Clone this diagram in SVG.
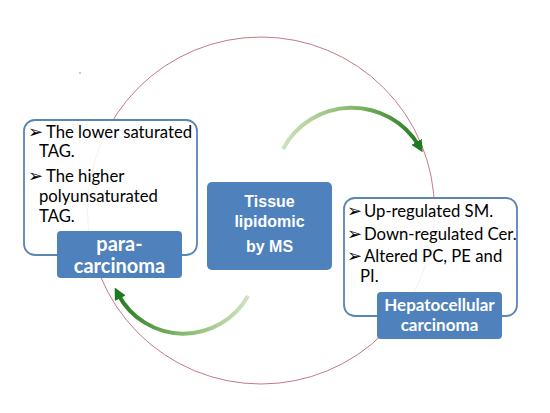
<svg xmlns="http://www.w3.org/2000/svg" width="550" height="413" viewBox="0 0 550 413">
<style>
.outline{fill:#ffffff;fill-opacity:0.88;stroke:#5a86b4;stroke-width:1.8}
.label{fill:#4f81bd}
.lt{font-family:Lato,"Open Sans",sans-serif;font-size:16.7px;fill:#000}
.bu{font-family:"DejaVu Sans",sans-serif;font-size:18px;fill:#000}
.lb{font-family:Lato,"Open Sans",sans-serif;font-weight:bold;fill:#fff;text-anchor:middle}
.ct{font-family:"Liberation Sans",Arial,sans-serif;font-size:16px;font-weight:bold;fill:#fff;text-anchor:middle}
</style>
<defs>
<linearGradient id="gTop" gradientUnits="userSpaceOnUse" x1="283" y1="0" x2="422" y2="0">
<stop offset="0" stop-color="#cfe2bd"/>
<stop offset="0.5" stop-color="#86b86a"/>
<stop offset="1" stop-color="#1e7a1e"/>
</linearGradient>
<linearGradient id="gBot" gradientUnits="userSpaceOnUse" x1="248" y1="0" x2="115" y2="0">
<stop offset="0" stop-color="#cfe2bd"/>
<stop offset="0.5" stop-color="#86b86a"/>
<stop offset="1" stop-color="#1e7a1e"/>
</linearGradient>
<marker id="ah" viewBox="0 0 10 10" refX="4" refY="5" markerWidth="3" markerHeight="3" orient="auto" markerUnits="strokeWidth">
<path d="M0,0 L10,5 L0,10 z" fill="#1e7a1e"/>
</marker>
</defs>
<rect width="550" height="413" fill="#ffffff"/>
<g id="cycle">
<circle cx="261" cy="210.5" r="173.5" fill="none" stroke="#c47a84" stroke-width="1"/>
<circle cx="80" cy="73" r="0.8" fill="#888"/>
</g>
<g id="connectors">
<path d="M283,149 A78,78 0 0,1 419,146" fill="none" stroke="url(#gTop)" stroke-width="4" marker-end="url(#ah)"/>
<path d="M248,296 A74,74 0 0,1 118,294" fill="none" stroke="url(#gBot)" stroke-width="4" marker-end="url(#ah)"/>
</g>
<g id="para-carcinoma">
<rect class="outline" x="24" y="120" width="173" height="135" rx="11"/>
<text class="bu" x="28" y="138">➢</text>
<text class="lt" x="46" y="138">The lower saturated</text>
<text class="lt" x="39" y="157">TAG.</text>
<text class="bu" x="28" y="182">➢</text>
<text class="lt" x="46" y="182">The higher</text>
<text class="lt" x="39" y="202">polyunsaturated</text>
<text class="lt" x="39" y="222">TAG.</text>
<rect class="label" x="57" y="231" width="125" height="47" rx="4"/>
<text class="lb" x="119.5" y="251" font-size="20">para-</text>
<text class="lb" x="119.5" y="273" font-size="20">carcinoma</text>
</g>
<g id="tissue-lipidomic">
<rect class="label" x="207" y="182" width="125" height="88" rx="5"/>
<text class="ct" x="269.5" y="207">Tissue</text>
<text class="ct" x="269.5" y="227">lipidomic</text>
<text class="ct" x="269.5" y="252">by MS</text>
</g>
<g id="hepatocellular-carcinoma">
<rect class="outline" x="344" y="198" width="173" height="118" rx="11"/>
<text class="bu" x="347" y="217">➢</text>
<text class="lt" x="364" y="217">Up-regulated SM.</text>
<text class="bu" x="347" y="240">➢</text>
<text class="lt" x="364" y="240">Down-regulated Cer.</text>
<text class="bu" x="347" y="262">➢</text>
<text class="lt" x="364" y="262">Altered PC, PE and</text>
<text class="lt" x="360" y="282">PI.</text>
<rect class="label" x="377" y="292" width="125" height="47" rx="4"/>
<text class="lb" x="439.5" y="311" font-size="17">Hepatocellular</text>
<text class="lb" x="439.5" y="331" font-size="17">carcinoma</text>
</g>
</svg>
